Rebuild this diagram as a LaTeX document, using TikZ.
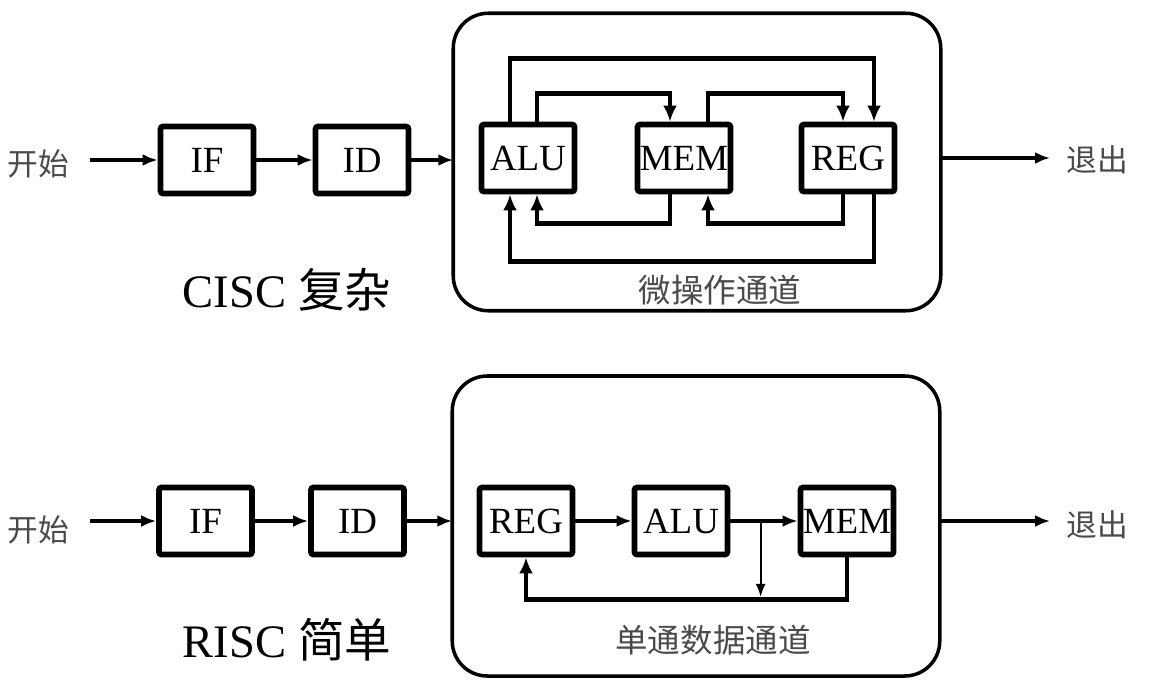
\documentclass[tikz,border=0pt]{standalone}
\usepackage{fontspec}
\setmainfont{Liberation Serif}
\newfontfamily\cjksans{Noto Sans CJK SC}
\usepackage{tikz}
\usetikzlibrary{arrows.meta, positioning, calc}
\definecolor{capgray}{HTML}{4A4A4A}

\begin{document}
\begin{tikzpicture}[
  font=\fontsize{21}{24}\selectfont,
  box/.style={rectangle, rounded corners=1.5pt, draw, line width=3.3pt,
    minimum width=1.86cm, minimum height=1.34cm, inner sep=0pt, outer sep=1.65pt},
  panel/.style={rectangle, rounded corners=0.7cm, draw, line width=2pt,
    minimum width=9.75cm, minimum height=5.95cm, outer sep=0pt},
  zh/.style={font=\cjksans\fontsize{17.5}{20}\selectfont, text=capgray},
  pathlabel/.style={font=\cjksans\fontsize{18.5}{22}\selectfont, text=capgray},
  title/.style={font=\fontsize{26.5}{30}\selectfont},
  arr/.style={-{Latex[length=3mm,width=2.4mm]}, line width=2pt},
  fb/.style={-{Latex[length=3.2mm,width=2.8mm]}, line width=2.8pt},
  tap/.style={-{Latex[length=2.6mm,width=2mm]}, line width=1.2pt}]
  \useasboundingbox (0,0) rectangle (23,-13.68);

  % CISC
  \node[zh] (start1) at (0.76,-3.28) {开始};
  \node[box] (if1) at (4.14,-3.2) {IF};
  \node[box] (id1) at (7.24,-3.2) {ID};
  \node[panel] (panel1) at (13.94,-3.24) {};
  \node[box] (alu1) at (10.56,-3.16) {ALU};
  \node[box] (mem1) at (13.68,-3.16) {MEM};
  \node[box] (reg1) at (16.96,-3.16) {REG};
  \node[zh] (exit1) at (21.94,-3.2) {退出};
  \node[pathlabel] (path1) at (14.4,-5.8) {微操作通道};
  \node[title] (cisc) at (5.74,-5.8) {CISC {\cjksans 复杂}};
  \draw[arr, shorten <=0.3cm] (start1.east |- if1) -- (if1);
  \draw[arr] (if1) -- (id1);
  \draw[arr] (id1) -- (panel1.west |- id1);
  \draw[arr, shorten >=0.2cm] (panel1.east |- alu1) -- (exit1.west |- alu1);
  \draw[fb] ([xshift=-0.36cm]alu1.north) -- ++(0,1.26cm) -| ([xshift=0.52cm]reg1.north);
  \draw[fb] ([xshift=0.18cm]alu1.north) -- ++(0,0.56cm) -| ([xshift=-0.28cm]mem1.north);
  \draw[fb] ([xshift=0.48cm]mem1.north) -- ++(0,0.56cm) -| ([xshift=-0.1cm]reg1.north);
  \draw[fb] ([xshift=-0.28cm]mem1.south) -- ++(0,-0.58cm) -| ([xshift=0.18cm]alu1.south);
  \draw[fb] ([xshift=-0.1cm]reg1.south) -- ++(0,-0.58cm) -| ([xshift=0.48cm]mem1.south);
  \draw[fb] ([xshift=0.52cm]reg1.south) -- ++(0,-1.34cm) -| ([xshift=-0.36cm]alu1.south);

  % RISC
  \node[zh] (start2) at (0.76,-10.6) {开始};
  \node[box] (if2) at (4.11,-10.42) {IF};
  \node[box] (id2) at (7.15,-10.42) {ID};
  \node[panel, minimum height=6.0cm] (panel2) at (13.92,-10.52) {};
  \node[box] (reg2) at (10.52,-10.42) {REG};
  \node[box] (alu2) at (13.62,-10.42) {ALU};
  \node[box] (mem2) at (16.94,-10.42) {MEM};
  \node[zh] (exit2) at (21.94,-10.5) {退出};
  \node[pathlabel] (path2) at (14.26,-12.8) {单通数据通道};
  \node[title] (risc) at (5.74,-12.8) {RISC {\cjksans 简单}};
  \draw[arr, shorten <=0.3cm] (start2.east |- if2) -- (if2);
  \draw[arr] (if2) -- (id2);
  \draw[arr] (id2) -- (panel2.west |- id2);
  \draw[arr, shorten >=0.2cm] (panel2.east |- mem2) -- (exit2.west |- mem2);
  \draw[arr] (reg2) -- (alu2);
  \draw[arr] (alu2) -- (mem2);
  \coordinate (tap2) at ($(alu2.east)!0.45!(mem2.west)$);
  \coordinate (bus2) at ([yshift=-0.84cm]mem2.south);
  \draw[fb] (mem2.south) -- (bus2) -| (reg2.south);
  \draw[tap, shorten >=1.4pt] (tap2) -- (tap2 |- bus2);
\end{tikzpicture}
\end{document}
